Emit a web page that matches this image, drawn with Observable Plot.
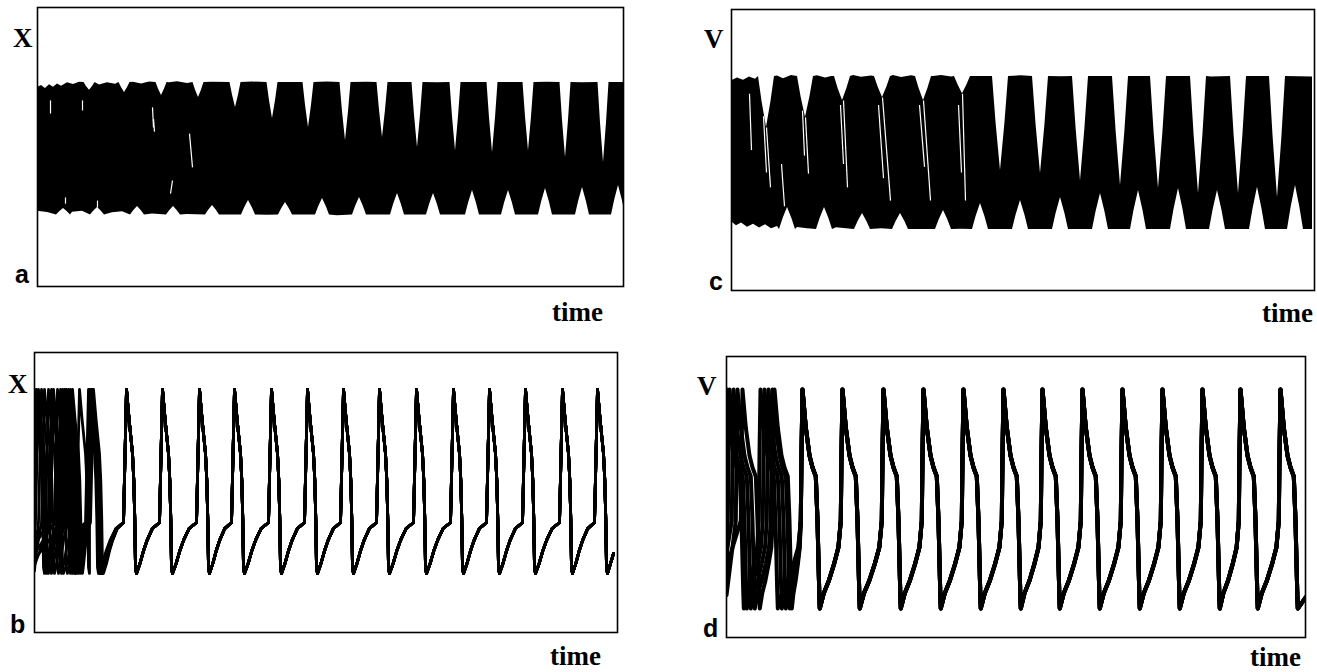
<!DOCTYPE html>
<html><head><meta charset="utf-8">
<script src="https://cdn.jsdelivr.net/npm/d3@7"></script>
<script src="https://cdn.jsdelivr.net/npm/@observablehq/plot@0.6"></script>
<style>
html,body{margin:0;padding:0;background:#fff;}
#fig{position:relative;width:1317px;height:672px;overflow:hidden;background:#fff;}
#fig svg.panel{position:absolute;}
#labels{position:absolute;left:0;top:0;}
</style></head><body><div id="fig"></div>
<script>
// ---------- Panel a : X(t), dense band of trajectories ----------
const aTopNotchT = [52, 87, 124, 161, 198, 235, 271, 308, 345, 380, 418, 455, 491, 528, 566];
const aTopNotchV = [70.3, 69.5, 68.5, 67.7, 64.2, 60.2, 57.0, 52.3, 53.4, 49.8, 48.7, 48.0, 48.7, 46.2, 44.4];
const aBotNotchT = [26, 60, 100, 136, 175, 211, 248, 285, 322, 360, 396, 435, 471, 508, 545, 581];
const aBotNotchV = [28.0, 28.3, 28.7, 28.7, 29.0, 30.8, 30.1, 31.5, 31.9, 33.3, 33.3, 34.4, 34.4, 35.1, 35.5, 36.2];
const aTopEdgeT = [0, 4, 8, 12, 16, 20, 24, 30, 36, 42, 62, 70, 78, 96, 104, 112, 132, 140, 150, 175, 215, 250, 290, 330, 400, 470, 510, 545, 586];
const aTopEdgeV = [71.3, 72.0, 71.0, 72.3, 71.4, 72.6, 71.8, 73.0, 72.4, 73.2, 72.2, 73.0, 72.5, 73.2, 72.6, 73.3, 73.0, 73.4, 72.8, 73.2, 73.3, 73.1, 73.3, 73.2, 73.0, 73.1, 73.2, 73.0, 73.1];
const aBotEdgeT = [0, 10, 20, 35, 45, 75, 85, 115, 150, 190, 230, 300, 400, 586];
const aBotEdgeV = [27.0, 26.5, 27.2, 26.6, 27.0, 26.4, 26.8, 26.0, 25.8, 25.6, 25.5, 25.4, 25.4, 25.4];
const aBandTop = 73.1, aBandBottom = 25.6;
// thin gaps between trajectory bundles: [t1, v1, t2, v2]
const aGaps = [[13, 66.7, 13, 62.0], [45, 66.7, 45, 63.1], [115, 64.2, 116, 57.0], [152, 54.8, 155, 42.7], [135, 38.0, 133, 33.3], [28, 31.9, 28, 29.7], [60, 30.8, 60, 28.3], [116, 60.0, 117, 55.5]];

// ---------- Panel c : V(t), dense band of trajectories ----------
const cTopNotchT = [35, 74, 111, 151, 192, 231, 269, 309, 349, 389, 427, 467, 507, 546];
const cTopNotchV = [58.0, 61.6, 67.6, 68.7, 67.6, 70.0, 42.7, 41.6, 39.1, 37.4, 36.3, 34.5, 34.5, 33.1];
const cBotNotchT = [56, 93, 131, 169, 212, 249, 289, 329, 369, 407, 447, 486, 526, 564];
const cBotNotchV = [29.5, 29.5, 27.4, 27.4, 28.5, 31.0, 32.0, 33.1, 34.5, 35.6, 36.3, 35.6, 36.7, 37.4];
const cTopEdgeT = [0, 6, 12, 18, 24, 46, 52, 60, 66, 86, 94, 100, 122, 130, 140, 162, 170, 180, 202, 210, 220, 250, 290, 330, 400, 480, 581];
const cTopEdgeV = [74.6, 75.6, 74.8, 76.0, 75.2, 76.3, 75.4, 76.5, 75.8, 76.4, 75.6, 76.2, 76.5, 75.9, 76.3, 76.5, 75.8, 76.4, 76.2, 76.5, 76.0, 76.2, 76.4, 76.1, 76.2, 76.0, 76.0];
const cBotEdgeT = [0, 5, 10, 16, 22, 28, 34, 40, 46, 66, 76, 105, 120, 150, 190, 230, 300, 581];
const cBotEdgeV = [24.5, 23.0, 24.0, 22.5, 23.6, 22.2, 23.4, 22.0, 22.8, 22.4, 22.0, 22.3, 21.8, 22.0, 21.7, 21.8, 21.7, 21.7];
const cBandTop = 76.2, cBandBottom = 21.7;
const cGaps = [[35, 58.0, 39, 36.7], [32, 62.0, 35, 42.0], [74, 61.6, 77, 41.6], [71, 64.0, 73, 48.0], [112, 67.6, 116, 36.7], [109, 66.0, 112, 45.0],
               [151, 68.7, 159, 32.0], [147, 66.0, 152, 40.0], [192, 67.6, 199, 32.0], [188, 66.0, 193, 44.0], [231, 70.0, 234, 32.0], [227, 66.0, 230, 42.0],
               [18, 70.0, 20, 50.0], [50, 45.0, 53, 30.0]];

// ---------- Panel b : X(t), synchronising spikes ----------
const bPeak = 86.8;
const bDescent = [[2.7, 75.7], [6, 63.9], [7.3, 54.3], [8.3, 40.0], [9, 23.2], [10, 21.1]];
const bRecovery = [[0.15, 24.6], [0.31, 29.3], [0.46, 32.9], [0.69, 37.1], [1.0, 39.3]];
const bCommonPeaks = [92, 128, 165, 200, 237, 273, 309, 345, 382, 419, 455, 491, 528, 563];
const bEarlyPeaks = [[0, 28, 56], [4, 32, 58], [10, 36, 57], [14, 38, 59], [19, 54], [23, 55], [26, 56], [31, 57], [2, 30, 55], [7, 34, 58], [17, 45, 58]];
const bStartV = [null, 30, 25, 35, 24, 28, 33, 26, 37, 22, 31];
const bTail = [[576, 24.6], [579, 28.2]];

// ---------- Panel d : V(t), synchronising spikes ----------
const dPeak = 88.3;
const dDescent = [[3.3, 74.7], [7, 64.8], [10, 60.5], [13.3, 57.3], [15, 41.6], [16.7, 16.7], [17.3, 10.3]];
const dRecovery = [[0.185, 15.7], [0.435, 20.3], [0.685, 26.3], [0.885, 32.0], [1.0, 41.6]];
const dRise = [[1, 65.5]];
const dCommonPeaks = [76, 116, 157, 197, 237, 277, 316, 356, 396, 436, 476, 514, 554];
const dEarlyPeaks = [[0, 34], [3, 38], [7, 42], [11, 46], [16, 48]];
const dStartV = [null, 20, 30, 15, 25];
const dTail = [[579, 14.2]];

const notchProfile = [[-1, 0], [-0.55, 0.5], [0, 1], [0.55, 0.5], [1, 0]];

// ---------- builders ----------
function envelope(edgeT, edgeV, notchT, notchV, base, hw) {
  const pts = [];
  edgeT.forEach((t, i) => { if (!notchT.some(c => Math.abs(t - c) < hw + 1)) pts.push({t, v: edgeV[i]}); });
  notchT.forEach((c, i) => notchProfile.forEach(([dx, f]) => pts.push({t: c + dx * hw, v: base + f * (notchV[i] - base)})));
  return pts.sort((p, q) => p.t - q.t);
}
function trace(id, peaks, startV, P) {
  const pts = [];
  if (startV != null) {
    pts.push({t: 0, v: startV, id});
    pts.push({t: Math.max(0, peaks[0] - P.lead), v: P.recovery[P.recovery.length - 1][1], id});
    P.rise.forEach(([dt, v]) => pts.push({t: peaks[0] - dt, v, id}));
  }
  peaks.forEach((p, i) => {
    pts.push({t: p, v: P.peak, id});
    P.descent.forEach(([dt, v]) => pts.push({t: p + dt, v, id}));
    const q = peaks[i + 1];
    if (q != null) {
      const T = p + P.troughDt, S = q - P.lead;
      P.recovery.forEach(([f, v]) => pts.push({t: T + f * (S - T), v, id}));
      P.rise.forEach(([dt, v]) => pts.push({t: q - dt, v, id}));
    } else {
      P.tail.forEach(([t, v]) => pts.push({t, v, id}));
    }
  });
  return pts;
}
const toGaps = g => g.map(([t1, v1, t2, v2]) => ({t1, v1, t2, v2}));

const bParams = {peak: bPeak, descent: bDescent, recovery: bRecovery, rise: [], troughDt: 10, lead: 3, tail: bTail};
const dParams = {peak: dPeak, descent: dDescent, recovery: dRecovery, rise: dRise, troughDt: 17.3, lead: 1.7, tail: dTail};
const bLines = bEarlyPeaks.flatMap((e, i) => trace(i, e.concat(bCommonPeaks), bStartV[i], bParams));
const dLines = dEarlyPeaks.flatMap((e, i) => trace(i, e.concat(dCommonPeaks), dStartV[i], dParams));

const aTop = envelope(aTopEdgeT, aTopEdgeV, aTopNotchT, aTopNotchV, aBandTop, 5.5);
const aBot = envelope(aBotEdgeT, aBotEdgeV, aBotNotchT, aBotNotchV, aBandBottom, 7);
const cTop = envelope(cTopEdgeT, cTopEdgeV, cTopNotchT, cTopNotchV, cBandTop, 8);
const cBot = envelope(cBotEdgeT, cBotEdgeV, cBotNotchT, cBotNotchV, cBandBottom, 8);

// ---------- layout ----------
const layout = {
  a: {left: 37, top: 7, w: 586, h: 279},
  b: {left: 34, top: 352, w: 583, h: 280},
  c: {left: 731, top: 9, w: 583, h: 281},
  d: {left: 726, top: 356, w: 579, h: 281}
};
const M = 2;
function panel(key, marks) {
  const L = layout[key];
  const svg = Plot.plot({
    width: L.w + 2 * M, height: L.h + 2 * M, margin: M,
    x: {domain: [0, L.w], axis: null},
    y: {domain: [0, 100], axis: null},
    style: {background: "transparent", overflow: "visible"},
    marks: [...marks, Plot.frame({stroke: "black", strokeWidth: 1.6})]
  });
  svg.classList.add("panel");
  svg.style.left = (L.left - M) + "px";
  svg.style.top = (L.top - M) + "px";
  document.getElementById("fig").appendChild(svg);
}
function bandMarks(top, bot, base, gaps) {
  return [
    Plot.area(top, {x1: "t", y1: () => base - 3, y2: "v", fill: "black", clip: true}),
    Plot.area(bot, {x1: "t", y1: () => base - 4, y2: "v", fill: "white", clip: true}),
    Plot.link(toGaps(gaps), {x1: "t1", y1: "v1", x2: "t2", y2: "v2", stroke: "white", strokeWidth: 1.2, clip: true})
  ];
}
panel("a", bandMarks(aTop, aBot, aBandBottom, aGaps));
panel("c", bandMarks(cTop, cBot, cBandBottom, cGaps));
panel("b", [Plot.line(bLines, {x: "t", y: "v", z: "id", stroke: "black", strokeWidth: 2.8, strokeLinejoin: "round", clip: true})]);
panel("d", [Plot.line(dLines, {x: "t", y: "v", z: "id", stroke: "black", strokeWidth: 4, strokeLinejoin: "round", clip: true})]);

// ---------- labels ----------
const labelDefs = [
  {t: "X", x: 13, y: 47, serif: true}, {t: "a", x: 15, y: 283, serif: false}, {t: "time", x: 552, y: 321, serif: true},
  {t: "X", x: 8, y: 393, serif: true}, {t: "b", x: 10, y: 633, serif: false}, {t: "time", x: 550, y: 665, serif: true},
  {t: "V", x: 704, y: 48, serif: true}, {t: "c", x: 709, y: 290, serif: false}, {t: "time", x: 1262, y: 322, serif: true},
  {t: "V", x: 697, y: 395, serif: true}, {t: "d", x: 703, y: 637, serif: false}, {t: "time", x: 1250, y: 666, serif: true}
];
const ns = "http://www.w3.org/2000/svg";
const lab = document.createElementNS(ns, "svg");
lab.setAttribute("id", "labels"); lab.setAttribute("width", 1317); lab.setAttribute("height", 672);
for (const L of labelDefs) {
  const el = document.createElementNS(ns, "text");
  el.setAttribute("x", L.x); el.setAttribute("y", L.y);
  el.setAttribute("font-family", L.serif ? "Liberation Serif, Times New Roman, serif" : "Liberation Sans, Arial, sans-serif");
  el.setAttribute("font-weight", "bold");
  el.setAttribute("font-size", L.serif ? 27 : 25);
  el.textContent = L.t;
  lab.appendChild(el);
}
document.getElementById("fig").appendChild(lab);
</script></body></html>
